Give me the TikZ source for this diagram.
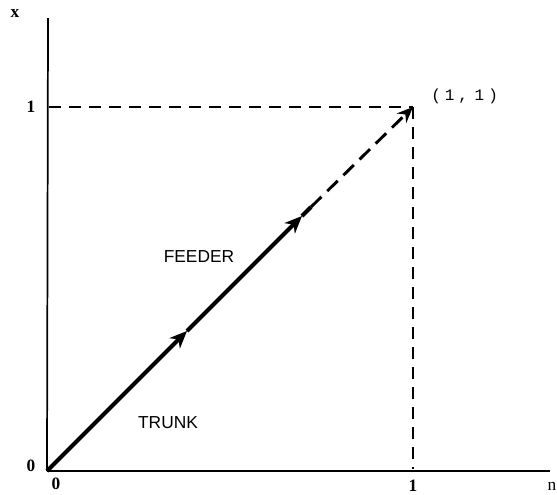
\documentclass[tikz,border=0pt]{standalone}
\usepackage{fontspec}
\setmainfont{Liberation Serif}
\setsansfont{Liberation Sans}
\setmonofont{Liberation Mono}
\usetikzlibrary{arrows.meta,decorations.markings}
\tikzset{
  axisline/.style={line width=1.3pt},
  guide/.style={line width=1.3pt, dash pattern=on 9pt off 6pt},
  trunkline/.style={line width=3pt},
  mid/.style={-{Stealth[length=13pt,width=11pt,inset=4pt]}},
  lab/.style={font=\sffamily\fontsize{13}{13}\selectfont},
  tick/.style={font=\bfseries\fontsize{13}{13}\selectfont},
}
\begin{document}
\begin{tikzpicture}[x=0.75pt,y=-0.75pt]
\useasboundingbox (0,0) rectangle (557,494);
\coordinate (O) at (47,471);
\coordinate (ytop) at (48,18);
\coordinate (xend) at (550,471);
\coordinate (P) at (413,107);
\coordinate (Y1) at (49,107);
\coordinate (X1) at (413,469);
\coordinate (A) at (187,331);
\coordinate (B) at (302,216);
\coordinate (S) at (311,207);
% axes
\draw[axisline] (O) -- (ytop);
\draw[axisline] (O) -- (xend);
% guides
\draw[guide] (Y1) -- (P);
\draw[guide] (P) -- (X1);
% trunk/feeder
\draw[trunkline, mid] (O) -- (A);
\draw[trunkline, mid] (A) -- (B);
\draw[trunkline] (B) -- (S);
\draw[line width=2.2pt, dash pattern=on 11pt off 6pt, -{Stealth[length=12pt,width=10pt,inset=4pt]}] (S) -- (P);
% labels
\node[tick] (lx) at (15,14) {x};
\node[font=\fontsize{13}{13}\selectfont] (ln) at (552,486) {n};
\node[tick] (l1y) at (31,107) {1};
\node[tick] (l0y) at (31,466) {0};
\node[tick] (l0x) at (56,484) {0};
\node[tick] (l1x) at (413,486) {1};
\node[font=\ttfamily\fontsize{12}{12}\selectfont, anchor=west, inner sep=0pt] (pt) at (431,96) {(\hspace{3pt}1\hspace{3pt},\hspace{5pt}1\hspace{3pt})};
\node[lab] (feeder) at (199,257) {FEEDER};
\node[lab] (trunk) at (168,423) {TRUNK};
\end{tikzpicture}
\end{document}
